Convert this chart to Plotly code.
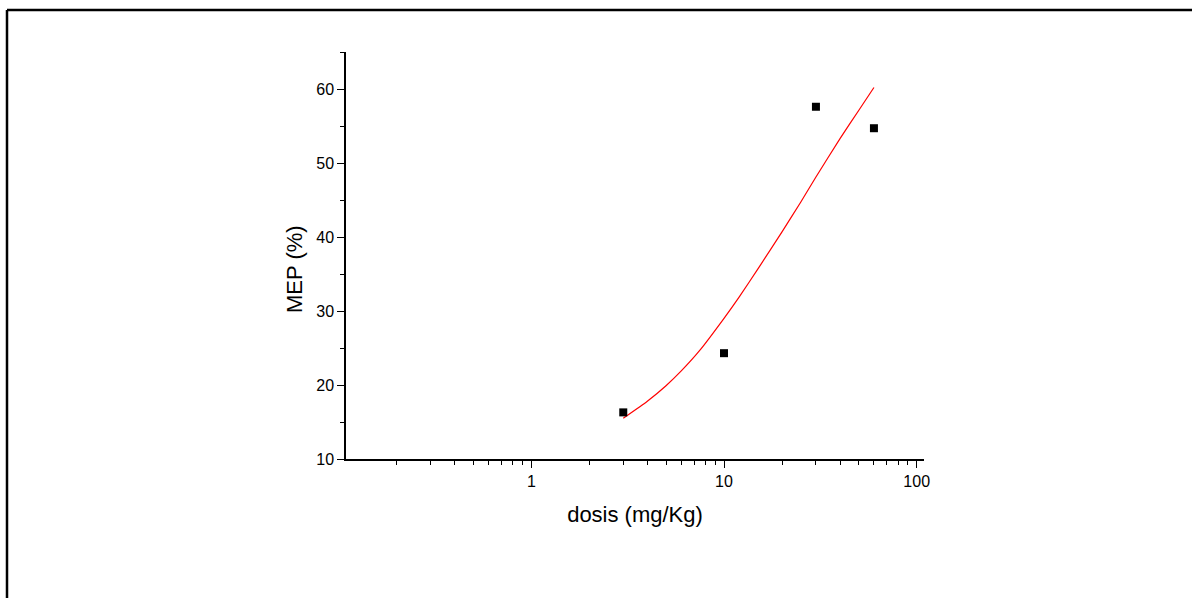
import plotly.graph_objects as go

# Data points (dose in mg/Kg, MEP %)
dose = [3, 10, 30, 60]
mep = [16.3, 24.3, 57.6, 54.7]

# Fitted curve
fit_dose = [3, 4, 5, 6, 7.5, 10, 12, 15, 20, 25, 30, 40, 50, 60]
fit_mep = [15.5, 17.8, 19.9, 21.9, 24.7, 29.0, 31.9, 35.7, 40.7, 44.7, 48.1, 53.3, 57.1, 60.2]

x_major = [1, 10, 100]
x_minor = [0.2, 0.3, 0.4, 0.5, 0.6, 0.7, 0.8, 0.9,
           2, 3, 4, 5, 6, 7, 8, 9,
           20, 30, 40, 50, 60, 70, 80, 90]

fig = go.Figure()
fig.add_trace(go.Scatter(x=fit_dose, y=fit_mep, mode="lines",
                         line=dict(color="red", width=1.2, shape="spline", smoothing=0.5),
                         showlegend=False))
fig.add_trace(go.Scatter(x=dose, y=mep, mode="markers",
                         marker=dict(symbol="square", size=8, color="black"),
                         showlegend=False))

W, H = 1192, 598
L, R, T, B = 346, 924, 52, 459
fig.update_layout(
    width=W, height=H,
    margin=dict(l=L, r=W - R, t=T, b=H - B, pad=0),
    paper_bgcolor="white", plot_bgcolor="white",
    font=dict(family="Arial, Liberation Sans, sans-serif", color="black"),
    xaxis=dict(
        type="log", range=[-0.962, 2.038],
        tickvals=x_major, ticktext=["1", "10", "100"],
        ticks="outside", ticklen=7, tickwidth=1.3, tickcolor="black",
        showline=True, linecolor="black", linewidth=1.5,
        showgrid=False, zeroline=False,
        tickfont=dict(size=16),
        minor=dict(tickvals=x_minor, ticks="outside", ticklen=4,
                   tickwidth=1.2, tickcolor="black", showgrid=False),
        title=dict(text="dosis (mg/Kg)", font=dict(size=22), standoff=18),
    ),
    yaxis=dict(
        range=[10, 65], tickvals=[10, 20, 30, 40, 50, 60],
        ticks="outside", ticklen=7, tickwidth=1.3, tickcolor="black",
        showline=True, linecolor="black", linewidth=1.5,
        showgrid=False, zeroline=False,
        tickfont=dict(size=16),
        minor=dict(dtick=5, ticks="outside", ticklen=4,
                   tickwidth=1.2, tickcolor="black", showgrid=False),
    ),
)

pw, ph = R - L, B - T
def px(x):
    return (x - L) / pw
def py(y):
    return (B - y) / ph

# Y-axis title (sits slightly below plot centre in the reference)
fig.add_annotation(text="MEP (%)", textangle=-90, showarrow=False,
                   xref="paper", yref="paper", x=px(294), y=py(269),
                   xanchor="center", yanchor="middle",
                   font=dict(size=22, color="black"))

# Outer frame (top and left edges)
fig.add_shape(type="line", xref="paper", yref="paper",
              x0=px(7), x1=px(1200), y0=py(10), y1=py(10),
              line=dict(color="black", width=2.5))
fig.add_shape(type="line", xref="paper", yref="paper",
              x0=px(7), x1=px(7), y0=py(10), y1=py(610),
              line=dict(color="black", width=2.5))

fig.write_html("out.html", config={"displayModeBar": False},
               post_script="document.body.style.margin='0';document.body.style.overflow='hidden';")
